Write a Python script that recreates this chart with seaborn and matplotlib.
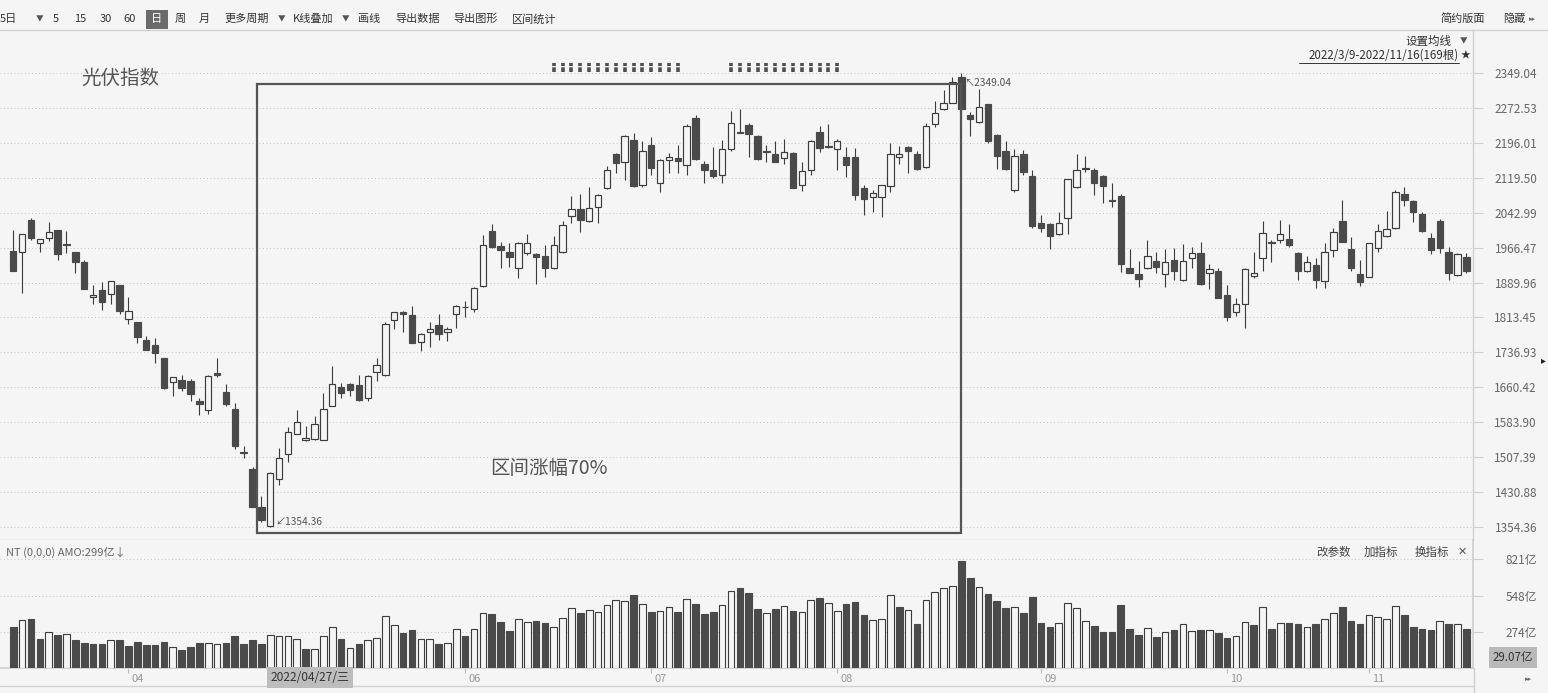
import numpy as np
import pandas as pd
import matplotlib
matplotlib.use("Agg")
import matplotlib.pyplot as plt
import seaborn as sns
from matplotlib.patches import Rectangle
from matplotlib.lines import Line2D
from matplotlib.transforms import ScaledTranslation

# ---------------- data (光伏指数, daily, 2022/03/15 - 2022/11/16 visible) ----------------
opens = [1960, 1958, 2027, 1976, 1988, 2005, 1975, 1958, 1936, 1858,
         1874, 1864, 1884, 1811, 1804, 1765, 1753, 1724, 1671, 1676,
         1674, 1631, 1610, 1691, 1649, 1612, 1519, 1480, 1397, 1356,
         1460, 1514, 1558, 1544, 1546, 1545, 1620, 1660, 1667, 1665,
         1636, 1693, 1687, 1808, 1825, 1819, 1759, 1781, 1797, 1782,
         1820, 1837, 1833, 1882, 2003, 1971, 1956, 1921, 1955, 1953,
         1948, 1921, 1956, 2037, 2051, 2025, 2056, 2097, 2173, 2155,
         2203, 2104, 2192, 2108, 2159, 2163, 2149, 2250, 2150, 2138,
         2127, 2182, 2221, 2236, 2212, 2179, 2172, 2164, 2175, 2104,
         2138, 2221, 2190, 2182, 2165, 2165, 2097, 2078, 2077, 2102,
         2166, 2187, 2172, 2144, 2237, 2270, 2285, 2340, 2258, 2243,
         2281, 2214, 2179, 2092, 2172, 2124, 2021, 2018, 1996, 2031,
         2099, 2140, 2138, 2124, 2071, 2080, 1923, 1909, 1921, 1938,
         1909, 1939, 1896, 1944, 1955, 1910, 1915, 1862, 1825, 1842,
         1904, 1943, 1979, 1983, 1985, 1955, 1915, 1928, 1893, 1961,
         2026, 1964, 1908, 1903, 1965, 1993, 2009, 2084, 2069, 2040,
         1988, 2024, 1958, 1907, 1947]
highs = [2005, 1997, 2032, 1986, 2022, 2005, 2003, 1958, 1939, 1885,
         1892, 1893, 1884, 1859, 1804, 1773, 1768, 1724, 1683, 1687,
         1678, 1637, 1687, 1724, 1667, 1625, 1531, 1485, 1422, 1474,
         1528, 1572, 1610, 1576, 1597, 1647, 1707, 1669, 1669, 1688,
         1687, 1724, 1804, 1825, 1827, 1839, 1780, 1804, 1821, 1793,
         1840, 1850, 1880, 1994, 2018, 1980, 1977, 1980, 1996, 1954,
         1972, 1992, 2024, 2080, 2084, 2099, 2084, 2146, 2175, 2213,
         2219, 2200, 2209, 2160, 2175, 2192, 2238, 2258, 2157, 2187,
         2203, 2266, 2271, 2241, 2213, 2192, 2201, 2204, 2176, 2155,
         2202, 2234, 2238, 2206, 2187, 2185, 2104, 2092, 2105, 2196,
         2190, 2189, 2179, 2239, 2289, 2312, 2340, 2349.04, 2265, 2314,
         2282, 2216, 2200, 2182, 2181, 2138, 2038, 2020, 2044, 2118,
         2173, 2168, 2141, 2127, 2109, 2084, 1964, 1937, 1983, 1958,
         1964, 1966, 1974, 1967, 1978, 1931, 1921, 1885, 1857, 1921,
         1958, 2026, 1983, 2027, 2018, 1957, 1948, 1943, 1977, 2010,
         2071, 1991, 1939, 1977, 2018, 2048, 2092, 2100, 2071, 2044,
         1999, 2029, 1967, 1954, 1955]
lows = [1915, 1866, 1983, 1956, 1982, 1939, 1954, 1910, 1875, 1844,
        1830, 1844, 1822, 1800, 1758, 1743, 1714, 1657, 1641, 1652,
        1631, 1599, 1601, 1683, 1620, 1524, 1506, 1398, 1365, 1354.36,
        1445, 1497, 1557, 1542, 1545, 1544, 1619, 1636, 1641, 1630,
        1629, 1675, 1686, 1787, 1782, 1757, 1740, 1749, 1765, 1762,
        1790, 1815, 1825, 1880, 1966, 1921, 1925, 1901, 1950, 1886,
        1903, 1920, 1955, 2020, 2002, 2023, 2020, 2095, 2130, 2116,
        2100, 2100, 2126, 2089, 2130, 2130, 2126, 2158, 2108, 2119,
        2108, 2178, 2218, 2166, 2158, 2155, 2155, 2151, 2097, 2091,
        2126, 2176, 2186, 2137, 2122, 2072, 2038, 2045, 2034, 2089,
        2151, 2131, 2137, 2142, 2232, 2268, 2283, 2252, 2211, 2240,
        2196, 2139, 2137, 2089, 2127, 2010, 2002, 1963, 1994, 1996,
        2097, 2133, 2083, 2065, 2056, 1914, 1911, 1881, 1919, 1912,
        1881, 1895, 1893, 1921, 1885, 1875, 1856, 1806, 1816, 1791,
        1899, 1915, 1936, 1976, 1969, 1895, 1913, 1877, 1879, 1947,
        1978, 1916, 1883, 1902, 1958, 1989, 2008, 2058, 2022, 2002,
        1953, 1955, 1895, 1905, 1911]
closes = [1915, 1997, 1987, 1986, 2002, 1953, 1973, 1936, 1875, 1862,
          1848, 1893, 1828, 1827, 1770, 1743, 1735, 1658, 1683, 1658,
          1645, 1623, 1685, 1688, 1623, 1532, 1517, 1398, 1369, 1473,
          1504, 1561, 1583, 1550, 1580, 1613, 1667, 1648, 1654, 1632,
          1685, 1709, 1798, 1825, 1820, 1758, 1778, 1787, 1778, 1787,
          1839, 1836, 1879, 1972, 1969, 1961, 1945, 1976, 1977, 1947,
          1923, 1972, 2016, 2051, 2027, 2053, 2082, 2138, 2153, 2211,
          2102, 2179, 2141, 2159, 2165, 2156, 2233, 2161, 2137, 2124,
          2184, 2241, 2219, 2216, 2162, 2177, 2155, 2177, 2098, 2135,
          2201, 2186, 2188, 2201, 2149, 2082, 2073, 2086, 2104, 2173,
          2171, 2179, 2139, 2234, 2261, 2283, 2331, 2270, 2249, 2276,
          2201, 2168, 2139, 2168, 2132, 2013, 2010, 1992, 2020, 2117,
          2138, 2141, 2108, 2102, 2069, 1931, 1912, 1897, 1948, 1925,
          1934, 1915, 1937, 1954, 1886, 1919, 1857, 1815, 1842, 1920,
          1912, 1998, 1977, 1996, 1972, 1915, 1936, 1896, 1956, 2000,
          1980, 1923, 1892, 1976, 2004, 2007, 2089, 2072, 2045, 2004,
          1961, 1965, 1910, 1952, 1915]
volumes = [314, 364, 371, 221, 271, 251, 256, 213, 193, 186,
           186, 213, 213, 168, 201, 173, 173, 201, 163, 138,
           163, 193, 193, 181, 193, 243, 181, 213, 186, 248,
           243, 243, 221, 146, 146, 243, 314, 221, 151, 181,
           213, 226, 394, 326, 264, 289, 221, 221, 186, 193,
           294, 243, 294, 417, 409, 351, 281, 371, 346, 356,
           341, 314, 377, 454, 414, 442, 422, 474, 512, 505,
           550, 484, 422, 434, 462, 422, 520, 484, 407, 422,
           474, 582, 605, 570, 449, 414, 449, 469, 429, 422,
           512, 527, 492, 434, 484, 499, 399, 361, 369, 550,
           462, 442, 334, 512, 575, 602, 617, 806, 683, 610,
           557, 507, 454, 462, 414, 540, 341, 314, 341, 489,
           454, 354, 321, 274, 274, 477, 299, 251, 306, 236,
           271, 286, 331, 279, 291, 291, 264, 228, 241, 346,
           326, 459, 299, 339, 341, 334, 314, 334, 369, 414,
           462, 356, 334, 404, 384, 369, 467, 399, 314, 299,
           286, 354, 334, 331, 299]

price_ticks = [1354.36, 1430.88, 1507.39, 1583.90, 1660.42, 1736.93, 1813.45,
               1889.96, 1966.47, 2042.99, 2119.50, 2196.01, 2272.53, 2349.04]
vol_ticks = [274, 548, 821]
vol_tick_labels = ["274亿", "548亿", "821亿"]
month_labels = ["04", "06", "07", "08", "09", "10", "11"]
month_pos = [13, 51, 72, 93, 116, 137, 153]
signal_idx = list(range(61, 76)) + list(range(81, 94))
box_span = (27.5, 107)
box_price = (1341, 2325)

# ---------------- style ----------------
sns.set_theme(style="white")
plt.rcParams['font.family'] = ['Noto Sans CJK SC', 'DejaVu Sans']
plt.rcParams['axes.unicode_minus'] = False

W, H = 1548, 693
BG = '#f5f5f5'
DARK = '#4a4a4a'
EDGE = '#3c3c3c'
GRID = '#c4c4c4'
AXC = '#cfcfcf'

def fx(px):
    return px / W

def fy(py):
    return 1 - py / H

fig = plt.figure(figsize=(W / 100, H / 100), dpi=100, facecolor=BG)
ax = fig.add_axes([0, fy(540), 1473 / W, 510 / H], facecolor=BG)
axv = fig.add_axes([0, fy(668.3), 1473 / W, 128.3 / H], facecolor=BG)

n = len(closes)
idx = np.arange(n)
o = np.array(opens, float)
h = np.array(highs, float)
l = np.array(lows, float)
c = np.array(closes, float)
up = c >= o

# ---------------- candles ----------------
ax.vlines(idx, l, h, color=EDGE, lw=0.8, zorder=2)
body_lo = np.minimum(o, c)
body_h = np.maximum(np.abs(c - o), 0.6)
ax.bar(idx[up], body_h[up], bottom=body_lo[up], width=0.72, color=BG,
       edgecolor=EDGE, linewidth=0.85, zorder=3)
ax.bar(idx[~up], body_h[~up], bottom=body_lo[~up], width=0.72, color=DARK,
       edgecolor=DARK, linewidth=0.85, zorder=3)

# signal marks on top
ax.vlines(signal_idx, 2352, 2372, colors='#4f4f4f', linewidth=2.6,
          linestyles=(0, (1.3, 0.35)), zorder=3)

# interval box
ax.add_patch(Rectangle((box_span[0], box_price[0]), box_span[1] - box_span[0],
                       box_price[1] - box_price[0], fill=False, ec='#555555',
                       lw=1.6, zorder=5))

# hi / lo annotations
imax = int(np.argmax(h))
imin = int(np.argmin(l))
ax.annotate("↖" + f"{h[imax]:.2f}", xy=(imax, h[imax]), xytext=(3, -5),
            textcoords='offset pixels', ha='left', va='top', fontsize=7.3,
            color='#555555', zorder=6)
ax.annotate("↙" + f"{l[imin]:.2f}", xy=(imin, l[imin]), xytext=(5, 0),
            textcoords='offset pixels', ha='left', va='bottom', fontsize=7.3,
            color='#555555', zorder=6)

ax.set_xlim(-1.501, 164.75)
ax.set_ylim(1325.11, 2444.12)
ax.set_xticks([])
ax.yaxis.tick_right()
ax.set_yticks(price_ticks)
ax.set_yticklabels([f"{t:.2f}" for t in price_ticks])
ax.tick_params(axis='y', which='major', right=True, left=False, direction='out',
               length=7.2, width=0.8, color=AXC, pad=38.9, labelsize=8.5,
               labelcolor='#666666')
for lab in ax.get_yticklabels():
    lab.set_ha('right')
ax.grid(axis='y', color=GRID, linestyle=(0, (1, 2.6)), linewidth=0.7)
ax.grid(axis='x', visible=False)
for s in ['left', 'top']:
    ax.spines[s].set_visible(False)
ax.spines['right'].set_color(AXC)
ax.spines['bottom'].set_color(AXC)
ax.spines['right'].set_linewidth(1)
ax.spines['bottom'].set_linewidth(1)

# ---------------- volume (seaborn) ----------------
prev_close = np.r_[o[0], c[:-1]]
vdf = pd.DataFrame({'i': idx, 'vol': volumes, 'up': c >= prev_close})
sns.barplot(data=vdf[~vdf['up']], x='i', y='vol', native_scale=True, width=0.75,
            color=DARK, saturation=1, edgecolor=DARK, linewidth=0.8,
            errorbar=None, ax=axv, zorder=3)
sns.barplot(data=vdf[vdf['up']], x='i', y='vol', native_scale=True, width=0.75,
            color=BG, saturation=1, edgecolor=EDGE, linewidth=0.8,
            errorbar=None, ax=axv, zorder=3)
axv.set_xlabel('')
axv.set_ylabel('')
axv.set_xlim(-1.501, 164.75)
axv.set_ylim(0, 966)
axv.yaxis.tick_right()
axv.set_yticks(vol_ticks)
axv.set_yticklabels(vol_tick_labels)
axv.tick_params(axis='y', right=True, left=False, direction='out', length=7.2,
                width=0.8, color=AXC, pad=38.9, labelsize=8.5, labelcolor='#666666')
for lab in axv.get_yticklabels():
    lab.set_ha('right')
axv.set_xticks(month_pos)
axv.set_xticklabels(month_labels)
axv.tick_params(axis='x', bottom=True, direction='out', length=3.6, width=0.8,
                color='#bbbbbb', pad=0.5, labelsize=8, labelcolor='#999999')
shift = ScaledTranslation(3 / 100, 0, fig.dpi_scale_trans)
for lab in axv.get_xticklabels():
    lab.set_ha('left')
    lab.set_transform(lab.get_transform() + shift)
axv.grid(axis='y', color=GRID, linestyle=(0, (1, 2.6)), linewidth=0.7)
axv.grid(axis='x', visible=False)
for s in ['left', 'top']:
    axv.spines[s].set_visible(False)
axv.spines['right'].set_color(AXC)
axv.spines['bottom'].set_color(AXC)

# ---------------- frame lines ----------------
fig.add_artist(Line2D([0, 1], [fy(29.5), fy(29.5)], transform=fig.transFigure,
                      color='#d2d2d2', lw=1))
fig.add_artist(Line2D([0, fx(1473)], [fy(686), fy(686)], transform=fig.transFigure,
                      color='#d2d2d2', lw=1))
fig.add_artist(Line2D([fx(1473.5), fx(1473.5)], [fy(668), fy(693)],
                      transform=fig.transFigure, color=AXC, lw=1))

# ---------------- toolbar ----------------
tb_y = fy(19)
tb = [("5日", 0), ("5", 53), ("15", 74), ("30", 100), ("60", 123),
      ("周", 175), ("月", 199), ("更多周期", 224), ("K线叠加", 293), ("画线", 358),
      ("导出数据", 395), ("导出图形", 453), ("区间统计", 512)]
for t, x in tb:
    fig.text(fx(x), tb_y, t, ha='left', va='center', fontsize=8, color='#333333')
for x in (36, 278, 342):
    fig.text(fx(x), tb_y, "▼", ha='left', va='center', fontsize=5.5, color='#555555')
fig.add_artist(Rectangle((fx(146), fy(29)), fx(22), 19 / H, transform=fig.transFigure,
                         fc='#6b6b6b', ec='none'))
fig.text(fx(157), tb_y, "日", ha='center', va='center', fontsize=8, color='white')
fig.text(fx(1440), tb_y, "简约版面", ha='left', va='center', fontsize=8, color='#333333')
fig.text(fx(1503), tb_y, "隐藏", ha='left', va='center', fontsize=8, color='#333333')
fig.text(fx(1529), tb_y, "▸▸", ha='left', va='center', fontsize=5, color='#666666')

# ---------------- panel texts ----------------
fig.text(fx(1405), fy(41), "设置均线", ha='left', va='center', fontsize=8.3, color='#333333')
fig.text(fx(1460), fy(41), "▼", ha='left', va='center', fontsize=5.5, color='#555555')
fig.text(fx(1459), fy(55.5), "2022/3/9-2022/11/16(169根)", ha='right', va='center',
         fontsize=8.3, color='#333333')
fig.add_artist(Line2D([fx(1299), fx(1459)], [fy(62.5), fy(62.5)], transform=fig.transFigure,
                      color='#333333', lw=0.7))
fig.text(fx(1461), fy(55), "★", ha='left', va='center', fontsize=7, color='#333333')

fig.text(fx(81), fy(78), "光伏指数", ha='left', va='center', fontsize=14, color='#555555')
fig.text(fx(490), fy(468), "区间涨幅70%", ha='left', va='center', fontsize=14, color='#555555')

fig.text(fx(6), fy(552), "NT (0,0,0) AMO:299亿↓", ha='left', va='center', fontsize=8,
         color='#666666')
for t, x in (("改参数", 1316), ("加指标", 1364), ("换指标", 1415)):
    fig.text(fx(x), fy(552), t, ha='left', va='center', fontsize=8.3, color='#444444')
fig.text(fx(1458), fy(552), "✕", ha='left', va='center', fontsize=8, color='#555555')

fig.text(fx(1533), fy(657.5), "29.07亿", ha='right', va='center', fontsize=8.3,
         color='#333333', bbox=dict(boxstyle='square,pad=0.35', fc='#b9b9b9', ec='none'))
fig.text(fx(271), fy(677.5), "2022/04/27/三", ha='left', va='center', fontsize=8.6,
         color='#333333', bbox=dict(boxstyle='square,pad=0.3', fc='#bdbdbd', ec='none'))
fig.text(fx(1541), fy(360), "▸", ha='left', va='center', fontsize=7, color='#222222')
fig.text(fx(1525), fy(679), "▸▸", ha='left', va='center', fontsize=5, color='#666666')

fig.savefig('out.png', dpi=100, facecolor=BG)
